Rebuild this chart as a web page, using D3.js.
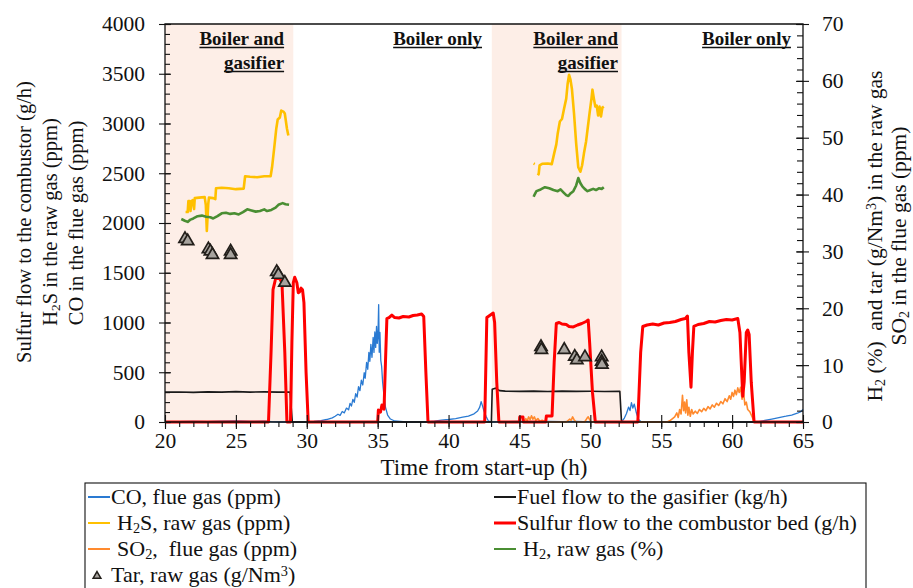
<!DOCTYPE html>
<html>
<head>
<meta charset="utf-8">
<script src="https://cdn.jsdelivr.net/npm/d3@7"></script>
<style>
  html, body { margin: 0; padding: 0; background: #fff; }
  svg { display: block; font-family: "Liberation Serif", "Times New Roman", serif; }
</style>
</head>
<body>
<svg id="chart" width="913" height="588"></svg>
<script>
// ---- axis ticks ----
const timeTicks = [20, 25, 30, 35, 40, 45, 50, 55, 60, 65];
const leftTicks = [0, 500, 1000, 1500, 2000, 2500, 3000, 3500, 4000];
const rightTicks = [0, 10, 20, 30, 40, 50, 60, 70];

// ---- operating phases (h) ----
const phaseStart = [20, 29.05, 43.05, 52.2];
const phaseEnd   = [29.05, 43.05, 52.2, 65];
const phaseShaded = [true, false, true, false];
const phaseLabels = [["Boiler and", "gasifier"], ["Boiler only"], ["Boiler and", "gasifier"], ["Boiler only"]];
const phaseLabelEnd = [28.4, 42.36, 51.95, 64.15];

// ---- measured series: [time (h), value] ----
// CO in the flue gas (ppm), left axis
const coFlue = [
  [20,0],[21,4],[22,6],[23,3],[24,8],[25,12],[26,6],[27,9],[27.5,3],[28,0],[30,0],
  [30.5,5],[31,14],[31.4,25],[31.8,42],[32,58],[32.2,78],[32.35,66],[32.5,105],[32.65,92],
  [32.8,140],[32.95,122],[33.05,188],[33.15,160],[33.25,228],[33.35,198],[33.45,285],[33.55,250],
  [33.65,355],[33.75,315],[33.85,420],[33.95,372],[34.05,495],[34.12,440],[34.22,600],[34.3,530],
  [34.38,700],[34.45,610],[34.52,780],[34.6,650],[34.68,850],[34.74,700],[34.8,905],[34.86,750],
  [34.92,960],[34.97,790],[35.02,860],[35.07,1180],[35.11,700],[35.16,900],[35.22,620],[35.28,560],
  [35.35,400],[35.45,260],[35.55,150],[35.7,70],[35.9,30],[36.2,10],[37,0],[38.5,0],
  [39,8],[39.5,18],[40,25],[40.5,34],[41,48],[41.4,60],[41.8,82],[42.05,110],[42.2,150],
  [42.3,205],[42.4,160],[42.5,110],[42.65,55],[42.8,12],[43,0],[44,3],[45,6],[46,2],[47,5],
  [48,3],[49,6],[50,2],[51,4],[52.2,0],[52.4,40],[52.55,85],[52.7,150],[52.8,115],[52.9,195],
  [53.0,140],[53.1,180],[53.25,90],[53.4,25],[53.6,0],[58,0],[61.8,0],[62.3,15],[62.8,30],
  [63.3,45],[63.8,58],[64.2,70],[64.6,88],[64.85,105],[65,125]
];

// fuel flow to the gasifier (kg/h), left axis
const fuelFlow = [
  [20,300],[21,302],[22,298],[23,303],[24,300],[25,305],[26,300],[27,303],[28,300],[28.82,302],
  [28.98,0],[43.02,0],[43.08,330],[43.3,340],[43.6,315],[44,310],[45,308],[46,310],[47,306],
  [48,310],[49,308],[50,309],[51,307],[52.08,308],[52.2,0],[65,0]
];

// SO2 in the flue gas (ppm), right axis
const so2Flue = [
  [45.3,0],[45.45,0.6],[45.55,0.2],[45.65,0.9],[45.75,0.4],[45.85,1.1],[45.95,0.5],[46.05,0.9],
  [46.15,0.3],[46.3,0.6],[46.45,0.1],[46.6,0.3],[46.8,0],[48.3,0],[48.55,0.5],[48.65,0.3],
  [48.75,0.9],[48.85,0.4],[49.0,0],[49.6,0],[49.75,0.6],[49.85,0.9],[50.0,0.2],[50.1,0],
  [55.4,0],[55.6,0.2],[55.8,0.6],[55.95,0.9],[56.1,1.6],[56.2,0.8],[56.3,2.2],[56.4,1.4],
  [56.5,4.7],[56.58,2.0],[56.65,3.5],[56.72,1.6],[56.8,3.9],[56.88,1.2],[56.95,2.6],[57.05,1.0],
  [57.15,2.2],[57.25,1.4],[57.4,1.9],[57.55,1.5],[57.7,2.2],[57.85,1.8],[58.0,2.4],[58.15,2.0],
  [58.3,2.7],[58.45,2.3],[58.6,3.0],[58.75,2.6],[58.9,3.3],[59.05,2.9],[59.2,3.6],[59.35,3.2],
  [59.5,4.1],[59.65,3.6],[59.8,4.6],[59.9,4.0],[60.0,5.2],[60.1,4.5],[60.2,5.6],[60.3,4.8],
  [60.4,6.0],[60.5,5.2],[60.6,6.1],[60.7,4.0],[60.8,5.5],[60.9,3.0],[61.0,3.5],[61.1,2.2],
  [61.25,1.8],[61.4,1.0],[61.55,0]
];

// H2S in the raw gas (ppm), left axis
const h2sRaw = [
  [21.45,2110],[21.6,2110],[21.65,2220],[21.75,2220],[21.8,2120],[21.85,2210],[21.95,2230],
  [22.05,2140],[22.1,2250],[22.4,2255],[22.8,2260],[22.88,2180],[22.95,1920],[23.05,2190],
  [23.1,2255],[23.4,2250],[23.55,2240],[23.6,2350],[24,2355],[24.5,2350],[25,2340],[25.55,2345],
  [25.65,2470],[26,2465],[26.5,2460],[27,2470],[27.45,2470],[27.55,2560],[27.7,2750],[27.85,2950],
  [27.95,3040],[28.1,3060],[28.2,3130],[28.35,3120],[28.45,3100],[28.6,2950],[28.7,2880],
  [null,null],
  [46.0,2598],[46.08,2592],
  [null,null],
  [46.3,2480],[46.36,2495],[46.42,2580],[46.6,2595],[47.0,2598],[47.28,2592],[47.45,2700],
  [47.6,2790],[47.7,2900],[47.85,3020],[48.0,3045],[48.15,3150],[48.3,3250],[48.4,3400],
  [48.5,3490],[48.6,3440],[48.7,3350],[48.85,3100],[49.0,2800],[49.15,2560],[49.3,2515],
  [49.42,2580],[49.55,2700],[49.7,2820],[49.82,2960],[49.95,3110],[50.08,3250],[50.15,3340],
  [50.25,3250],[50.35,3170],[50.45,3180],[50.55,3080],[50.65,3170],[50.75,3070],[50.85,3160],
  [50.95,3170]
];

// H2 in the raw gas (%), right axis
const h2Raw = [
  [21.15,35.7],[21.4,35.4],[21.6,35.2],[21.8,35.6],[22.0,35.8],[22.3,36.2],[22.6,36.3],[22.9,36.1],
  [23.2,36.0],[23.4,35.8],[23.7,36.2],[24.0,36.7],[24.3,36.8],[24.6,36.6],[24.9,36.7],[25.2,36.5],
  [25.5,36.9],[25.8,37.4],[26.1,37.2],[26.4,37.0],[26.7,37.1],[27.0,37.4],[27.2,37.1],[27.5,37.3],
  [27.8,37.7],[28.0,38.2],[28.3,38.5],[28.5,38.3],[28.75,38.2],
  [null,null],
  [46.0,39.6],[46.05,39.9],[46.2,40.6],[46.5,40.9],[46.8,41.3],[47.1,41.1],[47.4,40.8],[47.7,40.6],
  [47.9,40.9],[48.1,40.4],[48.3,39.9],[48.45,39.75],[48.6,40.2],[48.8,40.6],[49.0,41.6],[49.15,42.9],
  [49.3,42.0],[49.45,41.4],[49.6,41.0],[49.8,40.6],[50.0,40.8],[50.2,41.0],[50.4,40.8],[50.6,41.1],
  [50.8,41.0],[50.95,41.3]
];

// sulfur flow to the combustor bed (g/h), left axis
const sulfurFlow = [
  [20,0],[27.3,0],[27.48,700],[27.62,1330],[27.8,1440],[28.05,1450],[28.25,1400],[28.45,700],
  [28.6,0],[28.85,0],[28.95,800],[29.05,1400],[29.15,1455],[29.3,1400],[29.4,1300],[29.5,1310],
  [29.6,1345],[29.7,1330],[29.8,1200],[29.95,500],[30.1,0],[35.0,0],[35.05,120],[35.2,100],
  [35.3,170],[35.45,130],[35.55,600],[35.65,1040],[35.8,1050],[36.0,1075],[36.2,1050],[36.5,1045],
  [36.8,1060],[37.2,1055],[37.5,1070],[37.8,1075],[38.1,1085],[38.25,1060],[38.4,500],[38.55,0],
  [42.55,0],[42.7,1050],[42.9,1070],[43.15,1095],[43.25,1000],[43.4,400],[43.55,0],[45.0,0],
  [45.02,50],[45.25,50],[45.27,0],[46.85,0],[46.9,60],[47.3,60],[47.45,600],[47.6,990],[47.8,1000],
  [48.0,985],[48.3,980],[48.5,960],[48.8,955],[49.1,975],[49.4,990],[49.7,1010],[49.85,1025],
  [49.95,800],[50.15,300],[50.35,0],[53.35,0],[53.55,700],[53.7,960],[54.0,975],[54.4,985],
  [54.8,975],[55.2,995],[55.6,1000],[56.0,1010],[56.4,1030],[56.7,1040],[56.85,1065],[56.95,700],
  [57.1,350],[57.2,700],[57.3,960],[57.6,980],[58.0,990],[58.4,1010],[58.8,1005],[59.2,1020],
  [59.6,1030],[60.0,1025],[60.4,1040],[60.55,900],[60.75,260],[60.85,400],[61.0,900],[61.1,925],
  [61.2,880],[61.35,400],[61.55,0],[65,0]
];

// tar in the raw gas (g/Nm3), right axis
const tarRaw = [
  [21.41,32.2],[21.6,31.8],[23.06,30.4],[23.2,30.0],[23.35,29.4],[24.63,30.0],[24.63,29.4],
  [27.88,26.4],[28.0,25.9],[28.45,24.5],
  [46.52,13.2],[46.55,12.7],[48.16,12.7],[48.9,11.5],[49.05,10.9],[49.62,11.4],[50.8,11.4],
  [50.8,10.6],[50.82,10.1]
];

// ---- layout ----
const plot = { left: 165, right: 803, top: 24, bottom: 422 };
const svg = d3.select("#chart");

const x = d3.scaleLinear().domain([20, 65]).range([plot.left, plot.right]);
const yL = d3.scaleLinear().domain([0, 4000]).range([plot.bottom, plot.top]);
const yR = d3.scaleLinear().domain([0, 70]).range([plot.bottom, plot.top]);

const col = {
  co: "#2a7ad2", fuel: "#1a1a1a", so2: "#ff8a2e", h2s: "#ffc000",
  h2: "#4a8e33", sulfur: "#ff0000", shade: "#fdeee7"
};

// shaded operating windows
svg.append("g").selectAll("rect")
  .data(d3.range(phaseStart.length).filter(i => phaseShaded[i]))
  .join("rect")
  .attr("x", i => x(phaseStart[i]))
  .attr("width", i => x(phaseEnd[i]) - x(phaseStart[i]))
  .attr("y", plot.top)
  .attr("height", plot.bottom - plot.top)
  .attr("fill", col.shade);

// phase labels (bold, underlined)
const labG = svg.append("g").attr("font-weight", "bold").attr("font-size", 19).attr("fill", "#111");
phaseLabels.forEach((lines, i) => {
  lines.forEach((t, k) => {
    const baseY = 45 + k * 24;
    const txt = labG.append("text")
      .attr("x", x(phaseLabelEnd[i])).attr("y", baseY)
      .attr("text-anchor", "end").text(t);
    const w = txt.node().getComputedTextLength();
    labG.append("line")
      .attr("x1", x(phaseLabelEnd[i]) - w).attr("x2", x(phaseLabelEnd[i]))
      .attr("y1", baseY + 2.5).attr("y2", baseY + 2.5)
      .attr("stroke", "#111").attr("stroke-width", 1.3);
  });
});

// ---- series ----
const lineOf = ys => d3.line().defined(d => d[0] != null).x(d => x(d[0])).y(d => ys(d[1]));
const lines = svg.append("g").attr("fill", "none").attr("stroke-linejoin", "round");

lines.append("path").datum(coFlue).attr("d", lineOf(yL)).attr("stroke", col.co).attr("stroke-width", 1.3);
lines.append("path").datum(fuelFlow).attr("d", lineOf(yL)).attr("stroke", col.fuel).attr("stroke-width", 1.6);
lines.append("path").datum(so2Flue).attr("d", lineOf(yR)).attr("stroke", col.so2).attr("stroke-width", 1.6);
lines.append("path").datum(h2sRaw).attr("d", lineOf(yL)).attr("stroke", col.h2s).attr("stroke-width", 2.6);
lines.append("path").datum(h2Raw).attr("d", lineOf(yR)).attr("stroke", col.h2).attr("stroke-width", 2.6);
lines.append("path").datum(sulfurFlow).attr("d", lineOf(yL)).attr("stroke", col.sulfur).attr("stroke-width", 3);

// tar samples
const tri = d3.symbol().type(d3.symbolTriangle).size(64);
svg.append("g").selectAll("path").data(tarRaw).join("path")
  .attr("d", tri)
  .attr("transform", d => `translate(${x(d[0])},${yR(d[1])})`)
  .attr("fill", "#a7a39e").attr("stroke", "#221e1a").attr("stroke-width", 1.7);

// ---- axes ----
const axes = svg.append("g");
function put(axis, tx, ty) {
  const g = axes.append("g").attr("transform", `translate(${tx},${ty})`).call(axis);
  g.select(".domain").remove();
  g.selectAll("line").attr("stroke", "#111").attr("stroke-width", 1.1);
  g.selectAll("text").attr("font-size", 21.5).attr("fill", "#111")
    .attr("font-family", "'Liberation Serif','Times New Roman',serif");
  return g;
}
// x axis: minor ticks below, major ticks crossing
put(d3.axisBottom(x).tickValues(d3.range(20, 66, 1)).tickSize(5).tickFormat(""), 0, plot.bottom);
put(d3.axisBottom(x).tickValues(timeTicks).tickSize(7).tickPadding(4).tickFormat(d3.format("d")), 0, plot.bottom);
put(d3.axisTop(x).tickValues(timeTicks).tickSize(7).tickFormat(""), 0, plot.bottom);
// left axis
put(d3.axisRight(yL).tickValues(d3.range(0, 4001, 100)).tickSize(5).tickFormat(""), plot.left, 0);
put(d3.axisLeft(yL).tickValues(leftTicks).tickSize(6).tickPadding(14).tickFormat(d3.format("d")), plot.left, 0);
put(d3.axisRight(yL).tickValues(leftTicks).tickSize(6).tickFormat(""), plot.left, 0);
// right axis
put(d3.axisLeft(yR).tickValues(d3.range(0, 71, 2)).tickSize(6).tickFormat(""), plot.right, 0);
put(d3.axisRight(yR).tickValues(rightTicks).tickSize(6).tickPadding(13).tickFormat(d3.format("d")), plot.right, 0);
put(d3.axisLeft(yR).tickValues(rightTicks).tickSize(7).tickFormat(""), plot.right, 0);

// frame
axes.append("path")
  .attr("d", `M${plot.left},${plot.bottom}V${plot.top}H${plot.right}V${plot.bottom}Z`)
  .attr("fill", "none").attr("stroke", "#111").attr("stroke-width", 1.3);

// ---- titles ----
function richText(g, parts, size) {
  const t = g.append("text").attr("font-size", size).attr("fill", "#111");
  parts.forEach(p => {
    const [s, kind] = Array.isArray(p) ? p : [p, null];
    const ts = t.append("tspan").text(s);
    if (kind === "sub") ts.attr("font-size", size * 0.65).attr("baseline-shift", "-22%");
    if (kind === "sup") ts.attr("font-size", size * 0.65).attr("baseline-shift", "42%");
  });
  return t;
}
function vTitle(cx, cy, parts, size) {
  const g = svg.append("g").attr("transform", `translate(${cx},${cy}) rotate(-90)`);
  richText(g, parts, size).attr("text-anchor", "middle").attr("xml:space", "preserve");
}
vTitle(31, 222, ["Sulfur flow to the combustor (g/h)"], 20.5);
vTitle(57, 222, ["H", ["2", "sub"], "S in the raw gas (ppm)"], 20.5);
vTitle(83, 223, ["CO in the flue gas (ppm)"], 20.5);
vTitle(882, 236, ["H", ["2", "sub"], " (%)  and tar (g/Nm", ["3", "sup"], ") in the raw gas"], 21.5);
vTitle(906, 236, ["SO", ["2", "sub"], " in the flue gas (ppm)"], 21.5);

svg.append("text").attr("x", (plot.left + plot.right) / 2).attr("y", 475)
  .attr("text-anchor", "middle").attr("font-size", 23).attr("fill", "#111")
  .text("Time from start-up (h)");

// ---- legend ----
const leg = svg.append("g");
leg.append("rect").attr("x", 85).attr("y", 483).attr("width", 781).attr("height", 130)
  .attr("fill", "#fff").attr("stroke", "#111").attr("stroke-width", 1.1);
const legendItems = [
  { c: 0, r: 0, color: col.co, text: ["CO, flue gas (ppm)"], dx: 0 },
  { c: 0, r: 1, color: col.h2s, text: ["H", ["2", "sub"], "S, raw gas (ppm)"], dx: 6 },
  { c: 0, r: 2, color: col.so2, text: ["SO", ["2", "sub"], ",  flue gas (ppm)"], dx: 6 },
  { c: 0, r: 3, color: null, text: ["Tar, raw gas (g/Nm", ["3", "sup"], ")"], dx: 0 },
  { c: 1, r: 0, color: col.fuel, text: ["Fuel flow to the gasifier (kg/h)"], dx: 0 },
  { c: 1, r: 1, color: col.sulfur, text: ["Sulfur flow to the combustor bed (g/h)"], dx: 0 },
  { c: 1, r: 2, color: col.h2, text: ["H", ["2", "sub"], ", raw gas (%)"], dx: 6 }
];
const colX = [88, 494];
legendItems.forEach(it => {
  const cy = 497 + it.r * 26;
  const x0 = colX[it.c];
  if (it.color) {
    leg.append("line").attr("x1", x0).attr("x2", x0 + 22).attr("y1", cy).attr("y2", cy)
      .attr("stroke", it.color).attr("stroke-width", it.color === col.sulfur ? 3 : 2);
  } else {
    leg.append("path").attr("d", d3.symbol().type(d3.symbolTriangle).size(26))
      .attr("transform", `translate(${x0 + 9},${cy + 1})`)
      .attr("fill", "#a7a39e").attr("stroke", "#221e1a").attr("stroke-width", 1.5);
  }
  const g = leg.append("g").attr("transform", `translate(${x0 + 23 + it.dx},${cy + 7})`);
  richText(g, it.text, 22).attr("xml:space", "preserve");
});
</script>
</body>
</html>
